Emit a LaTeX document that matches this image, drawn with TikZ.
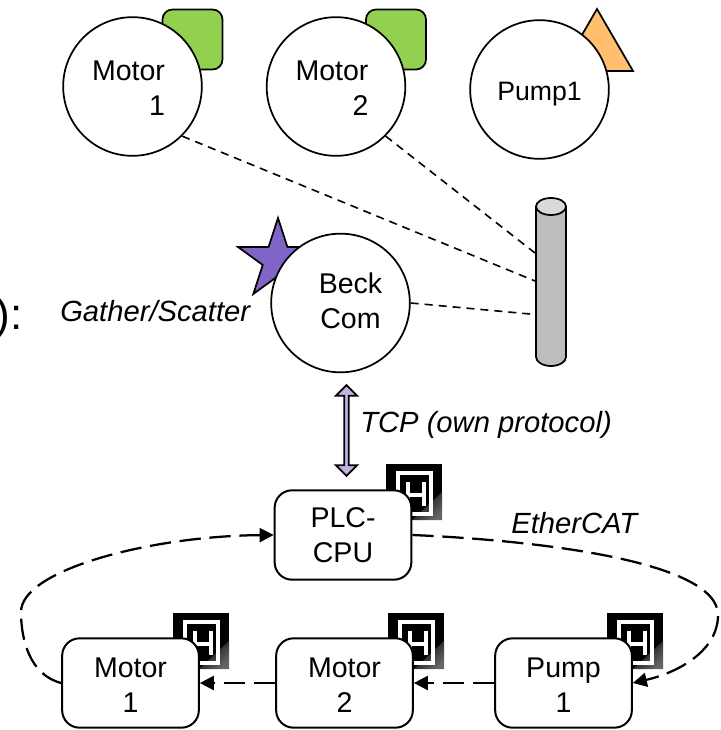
\documentclass[tikz,border=0pt]{standalone}
\usepackage{fontspec}
\setmainfont{Liberation Sans}
\usetikzlibrary{shapes,arrows.meta,positioning,calc}
\definecolor{motorgreen}{RGB}{146,208,80}
\definecolor{pumporange}{RGB}{255,191,110}
\definecolor{beckpurple}{RGB}{128,100,200}
\definecolor{tcplilac}{RGB}{195,177,225}
\definecolor{busgray}{RGB}{189,189,189}
\definecolor{buscap}{RGB}{217,217,217}
\newcommand{\diagfont}{\fontsize{21.4}{26.2}\selectfont}
\newcommand{\topstrut}{\rule{0pt}{17.5pt}}
\tikzset{
  device/.style={circle, draw, fill=white, line width=1.3pt, minimum size=104pt, inner sep=0pt, align=center},
  station/.style={draw, fill=white, line width=1.5pt, rounded corners=13pt, minimum width=102.5pt, minimum height=67pt, inner sep=0pt, align=center},
  drivetag/.style={draw, fill=motorgreen, line width=1.3pt, rounded corners=7.5pt, minimum size=45pt, inner sep=0pt},
  fieldlink/.style={line width=1.2pt, dash pattern=on 6pt off 4.5pt},
  ecatlink/.style={line width=1.7pt, dash pattern=on 16pt off 6.5pt, -{Triangle[length=10.5pt,width=10.5pt]}},
  note/.style={font=\fontsize{21.9}{26.2}\selectfont\itshape, inner sep=0pt, anchor=base west},
  icon/.pic={
    \fill[black] (0,0) rectangle (56,56);
    \shade[bottom color=black!60, top color=black, shading angle=45] (26,56) -- (56,28) -- (56,56) -- cycle;
    \draw[white, line width=2.8pt] (12,9) rectangle (45,50);
    \draw[white, line width=3pt] (22,18) -- (22,42) (38,18) -- (38,42) (22,31) -- (38,31);
  }
}
\begin{document}
\begin{tikzpicture}[x=0.75pt, y=-0.75pt, font=\diagfont]
  \useasboundingbox (0,0) rectangle (720,730);
  % tags behind the top row
  \node[drivetag] (tag1) at (192.5,39.5) {};
  \node[drivetag] (tag2) at (396,39.5) {};
  \draw[fill=pumporange, line width=1.3pt] (597,9) -- (633,71) -- (561,71) -- cycle;
  \node[star, star points=5, star point ratio=2.618, minimum size=63pt, inner sep=0pt, draw, fill=beckpurple, line width=1.3pt] (beckstar) at (278,260) {};
  % bus bar
  \draw[fill=busgray, line width=1.3pt] (536,206.5) -- (536,357) .. controls (536,362) and (543,366) .. (551,366) .. controls (559,366) and (566,362) .. (566,357) -- (566,206.5) -- cycle;
  \draw[fill=buscap, line width=1.3pt] (551,206.5) ellipse [x radius=15, y radius=8.5];
  \coordinate (busa) at (535,253);
  \coordinate (busb) at (535,281);
  \coordinate (busc) at (530,314);
  % devices
  \node[device, align=right] (motor1) at (132.5,86.5) {\topstrut Motor\hspace*{6pt}\\1\hspace*{6pt}};
  \node[device, align=right] (motor2) at (336,86.5) {\topstrut Motor\hspace*{6pt}\\2\hspace*{6pt}};
  \node[device, font=\fontsize{20}{24}\selectfont, text height=15.8pt, text depth=0pt] (pump) at (539.5,89.5) {Pump1};
  \node[device] (beck) at (340.5,303) {\hspace*{15pt}Beck\\\hspace*{15pt}\raisebox{0pt}[\height][4pt]{Com}};
  \draw[fieldlink] (motor1.-45) -- (busb);
  \draw[fieldlink] (motor2.-45) -- (busa);
  \draw[fieldlink] (beck.east) -- (busc);
  \node[note] (gather) at (60,321) {Gather/Scatter};
  \node[anchor=east, inner sep=0pt, font=\fontsize{33}{36}\selectfont] (cutoff) at (23,318.6) {):};
  % ethercat row
  \foreach \x/\y/\n in {386/464/a, 173/613/b, 388/613/c, 607/613/d} {
    \pic (icon\n) at (\x,\y) {icon};
  }
  \node[station] (plc) at (343,535) {PLC-\\CPU};
  \node[station] (mot1) at (130.5,683) {\topstrut Motor\\1};
  \node[station] (mot2) at (344.5,683) {\topstrut Motor\\2};
  \node[station] (pmp) at (563.5,683) {\topstrut Pump\\1};
  \node[double arrow, rotate=90, draw, fill=tcplilac, line width=1.3pt, minimum width=16pt, minimum height=68pt, double arrow head extend=2.5pt, inner sep=0pt] (tcp) at (346.5,430.5) {};
  \node[note] (tcplabel) at (360,432) {TCP (own protocol)};
  \node[note] (ecat) at (511,533) {EtherCAT};
  \draw[ecatlink] (plc.east) .. controls (530,540) and (718,560) .. (718,615) .. controls (718,650) and (680,672) .. (pmp.east);
  \draw[ecatlink] (pmp) -- (mot2);
  \draw[ecatlink] (mot2) -- (mot1);
  \draw[ecatlink] (mot1.west) .. controls (30,675) and (21,640) .. (21,612) .. controls (21,570) and (150,536) .. (plc.west);
\end{tikzpicture}
\end{document}
